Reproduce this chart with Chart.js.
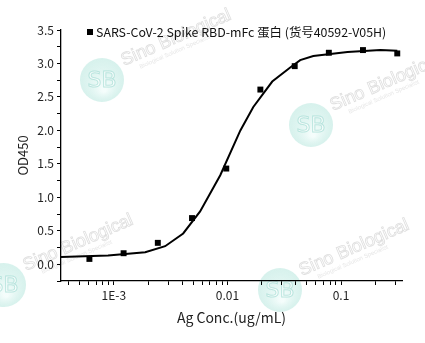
<!DOCTYPE html>
<html><head><meta charset="utf-8">
<script src="https://cdn.jsdelivr.net/npm/chart.js@4/dist/chart.umd.min.js"></script>
<style>html,body{margin:0;padding:0;background:#fff}#wrap{width:425px;height:343px}</style>
</head><body><div id="wrap"><canvas id="c" width="425" height="343"></canvas></div>
<script>
// measured data (2-fold dilutions)
const concentrations = [0.00061, 0.00122, 0.00244, 0.00488, 0.00977, 0.0195, 0.0391, 0.0781, 0.156, 0.3125];
const od450 = [0.08, 0.165, 0.32, 0.69, 1.43, 2.61, 2.96, 3.16, 3.20, 3.15];
// fitted curve
const fitX = [0.000343, 0.00089, 0.00189, 0.00283, 0.00408, 0.00575, 0.00865, 0.0130, 0.0169, 0.0248, 0.0357, 0.0437, 0.057, 0.114, 0.222, 0.313];
const fitY = [0.11, 0.13, 0.18, 0.27, 0.46, 0.79, 1.33, 2.0, 2.35, 2.73, 2.94, 3.05, 3.11, 3.17, 3.20, 3.19];
const seriesLabel = 'SARS-CoV-2 Spike RBD-mFc 蛋白 (货号40592-V05H)';
const xTickLabels = {'-3':'1E-3','-2':'0.01','-1':'0.1'};
const yMajor = [0,0.5,1,1.5,2,2.5,3,3.5];
const X_MIN = 0.000343, X_MAX = 0.344;

const FONT = "'Noto Sans CJK SC','Noto Sans',sans-serif";

const watermark = {
  id:'wm',
  beforeDraw(chart){
    const ctx = chart.ctx;
    const marks = [[102,80],[311,125],[4,285],[280,290]];
    ctx.save();
    marks.forEach(([x,y])=>{
      const g = ctx.createRadialGradient(x+2,y+10,2,x,y,22);
      g.addColorStop(0,'rgba(240,252,250,0.7)'); g.addColorStop(1,'rgba(175,228,218,0.5)');
      ctx.beginPath(); ctx.arc(x,y,22,0,Math.PI*2);
      ctx.fillStyle=g; ctx.fill();
      ctx.font="22px 'DejaVu Sans',sans-serif"; ctx.textAlign='center'; ctx.textBaseline='middle';
      ctx.lineWidth=1; ctx.strokeStyle='rgba(150,215,205,0.6)';
      ctx.fillStyle='rgba(255,255,255,0.8)';
      ctx.fillText('SB',x,y+1); ctx.strokeText('SB',x,y+1);
      ctx.save(); ctx.translate(x+22,y-14); ctx.rotate(-0.41);
      ctx.textAlign='left'; ctx.textBaseline='alphabetic';
      ctx.font="18px 'Liberation Sans',sans-serif";
      ctx.fillStyle='rgba(255,255,255,0.9)'; ctx.fillText('Sino Biological',0,0);
      ctx.strokeStyle='rgba(195,195,195,0.55)'; ctx.lineWidth=0.8; ctx.strokeText('Sino Biological',0,0);
      ctx.fillStyle='rgba(205,205,205,0.5)';
      ctx.font="6px 'Liberation Sans',sans-serif"; ctx.fillText('Biological Solution Specialist',14,9);
      ctx.restore();
    });
    ctx.restore();
  }
};
const legendPlug = {
  id:'lg',
  afterDraw(chart){
    const ctx=chart.ctx; ctx.save();
    ctx.fillStyle='#000'; ctx.fillRect(87,29,6,6);
    ctx.font="12.4px "+FONT; ctx.textBaseline='middle'; ctx.textAlign='left';
    ctx.fillStyle='#111'; ctx.fillText(chart.data.datasets[0].label,96,32);
    ctx.restore();
  }
};

new Chart(document.getElementById('c'),{
  data:{datasets:[
    {type:'scatter',label:seriesLabel,data:concentrations.map((x,i)=>({x,y:od450[i]})),
     pointStyle:'rect',pointRadius:4.2,backgroundColor:'#000',borderColor:'#000',borderWidth:0},
    {type:'line',label:'fit',data:fitX.map((x,i)=>({x,y:fitY[i]})),borderColor:'#000',borderWidth:2,
     pointRadius:0,tension:0,fill:false}
  ]},
  options:{
    responsive:false,animation:false,
    layout:{padding:{left:11,right:23,top:30,bottom:17}},
    plugins:{legend:{display:false},tooltip:{enabled:false}},
    scales:{
      x:{type:'logarithmic',min:X_MIN,max:X_MAX,bounds:'data',
        afterBuildTicks(s){s.min=X_MIN;s.max=X_MAX;const t=[];for(let e=-4;e<=0;e++){for(let m=1;m<=9;m++){const v=m*Math.pow(10,e);if(v>=X_MIN&&v<=X_MAX)t.push({value:v});}}s.ticks=t;},
        afterFit(s){s.height=45;},
        ticks:{autoSkip:false,maxRotation:0,padding:3,color:'#222',font:{family:FONT,size:12},
          callback(v){const l=Math.log10(v);const r=Math.round(l);return Math.abs(l-r)<1e-9?(xTickLabels[String(r)]||''):'';}},
        grid:{drawOnChartArea:false,tickLength:4,color:'#000',tickWidth:1},
        border:{color:'#000',width:1.3},
        title:{display:true,text:'Ag Conc.(ug/mL)',color:'#222',font:{family:FONT,size:14},padding:{top:0,bottom:0}}
      },
      y:{type:'linear',min:-0.25,max:3.5,
        afterBuildTicks(s){const t=[];for(let i=-1;i<=14;i++)t.push({value:i*0.25});s.ticks=t;},
        afterFit(s){s.width=50;},
        ticks:{autoSkip:false,padding:3,color:'#222',font:{family:FONT,size:12},
          callback(v){return yMajor.some(m=>Math.abs(m-v)<1e-9)?v.toFixed(1):'';}},
        grid:{drawOnChartArea:false,tickLength:4,color:'#000',tickWidth:1},
        border:{color:'#000',width:1.3},
        title:{display:true,text:'OD450',color:'#222',font:{family:FONT,size:13},padding:{top:4,bottom:0}}
      }
    }
  },
  plugins:[watermark,legendPlug]
});
</script></body></html>
